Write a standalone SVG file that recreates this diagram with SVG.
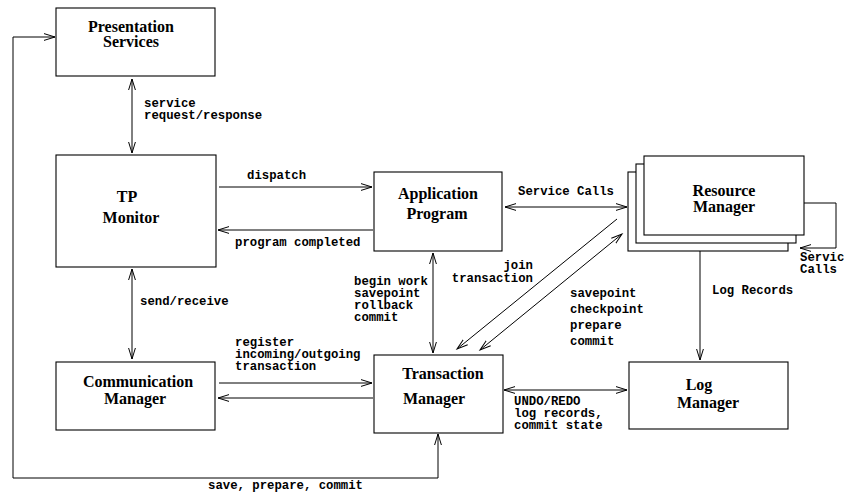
<svg xmlns="http://www.w3.org/2000/svg" width="844" height="492" viewBox="0 0 844 492">
<style>
.box{fill:#fff;stroke:#000;stroke-width:1.1}
.t{font-family:"Liberation Serif","Times New Roman",serif;font-weight:bold;font-size:16px;fill:#000;text-anchor:middle}
.l{font-family:"Liberation Mono","Courier New",monospace;font-weight:bold;font-size:12.3px;fill:#000}
.c{fill:none;stroke:#000;stroke-width:1}
</style>
<defs>
<marker id="ah" markerWidth="13" markerHeight="9" refX="11" refY="4" orient="auto-start-reverse" markerUnits="userSpaceOnUse">
<path d="M0,0.6 L11,4 L0,7.4" fill="none" stroke="#000" stroke-width="1"/>
</marker>
</defs>
<rect width="844" height="492" fill="#fff"/>
<g id="connectors">
<line class="c" x1="132" y1="79" x2="132" y2="153" marker-start="url(#ah)" marker-end="url(#ah)"/>
<line class="c" x1="132" y1="269" x2="132" y2="359" marker-start="url(#ah)" marker-end="url(#ah)"/>
<line class="c" x1="219" y1="187" x2="372" y2="187" marker-end="url(#ah)"/>
<line class="c" x1="373" y1="230" x2="218" y2="230" marker-end="url(#ah)"/>
<line class="c" x1="505" y1="207" x2="627" y2="207" marker-start="url(#ah)" marker-end="url(#ah)"/>
<line class="c" x1="433" y1="253" x2="433" y2="353" marker-start="url(#ah)" marker-end="url(#ah)"/>
<line class="c" x1="617" y1="219" x2="457" y2="349" marker-end="url(#ah)"/>
<line class="c" x1="622" y1="234" x2="480" y2="350" marker-start="url(#ah)" marker-end="url(#ah)"/>
<line class="c" x1="219" y1="383" x2="372" y2="383" marker-end="url(#ah)"/>
<line class="c" x1="373" y1="398" x2="218" y2="398" marker-end="url(#ah)"/>
<line class="c" x1="504" y1="390" x2="627" y2="390" marker-start="url(#ah)" marker-end="url(#ah)"/>
<line class="c" x1="700" y1="235" x2="700" y2="360" marker-end="url(#ah)"/>
<polyline class="c" points="804,203 836,203 836,248 800,248" marker-end="url(#ah)"/>
<polyline class="c" points="438,434 438,478 13,478 13,37 55,37" marker-start="url(#ah)" marker-end="url(#ah)"/>
</g>
<g id="presentation-services">
<rect class="box" x="56" y="8" width="159" height="68"/>
<text class="t" x="131" y="32">Presentation</text>
<text class="t" x="131" y="47">Services</text>
</g>
<g id="tp-monitor">
<rect class="box" x="56" y="155" width="160" height="112"/>
<text class="t" x="127" y="202">TP</text>
<text class="t" x="131" y="223">Monitor</text>
</g>
<g id="application-program">
<rect class="box" x="374" y="172" width="128" height="79"/>
<text class="t" x="438" y="199">Application</text>
<text class="t" x="437" y="219">Program</text>
</g>
<g id="resource-manager">
<rect class="box" x="628" y="172" width="160" height="79"/>
<rect class="box" x="636" y="164" width="160" height="79"/>
<rect class="box" x="644" y="156" width="160" height="79"/>
<text class="t" x="724" y="196">Resource</text>
<text class="t" x="724" y="212">Manager</text>
</g>
<g id="communication-manager">
<rect class="box" x="56" y="362" width="159" height="68"/>
<text class="t" x="138" y="387">Communication</text>
<text class="t" x="135" y="404">Manager</text>
</g>
<g id="transaction-manager">
<rect class="box" x="374" y="355" width="129" height="78"/>
<text class="t" x="443" y="379">Transaction</text>
<text class="t" x="434" y="404">Manager</text>
</g>
<g id="log-manager">
<rect class="box" x="629" y="362" width="159" height="67"/>
<text class="t" x="699" y="390">Log</text>
<text class="t" x="708" y="408">Manager</text>
</g>
<g id="labels">
<text class="l" x="144" y="107">service</text>
<text class="l" x="144" y="119">request/response</text>
<text class="l" x="247" y="179">dispatch</text>
<text class="l" x="235" y="246">program completed</text>
<text class="l" x="518" y="195">Service Calls</text>
<text class="l" x="800" y="261">Service</text>
<text class="l" x="800" y="273">Calls</text>
<text class="l" x="140" y="305">send/receive</text>
<text class="l" x="354" y="285">begin work</text>
<text class="l" x="354" y="297">savepoint</text>
<text class="l" x="354" y="309">rollback</text>
<text class="l" x="354" y="321">commit</text>
<text class="l" x="533" y="269" text-anchor="end">join</text>
<text class="l" x="533" y="282" text-anchor="end">transaction</text>
<text class="l" x="712" y="294">Log Records</text>
<text class="l" x="570" y="297">savepoint</text>
<text class="l" x="570" y="313">checkpoint</text>
<text class="l" x="570" y="329">prepare</text>
<text class="l" x="570" y="345">commit</text>
<text class="l" x="235" y="346">register</text>
<text class="l" x="235" y="358">incoming/outgoing</text>
<text class="l" x="235" y="370">transaction</text>
<text class="l" x="514" y="405">UNDO/REDO</text>
<text class="l" x="514" y="417">log records,</text>
<text class="l" x="514" y="429">commit state</text>
<text class="l" x="208" y="489">save, prepare, commit</text>
</g>
</svg>
